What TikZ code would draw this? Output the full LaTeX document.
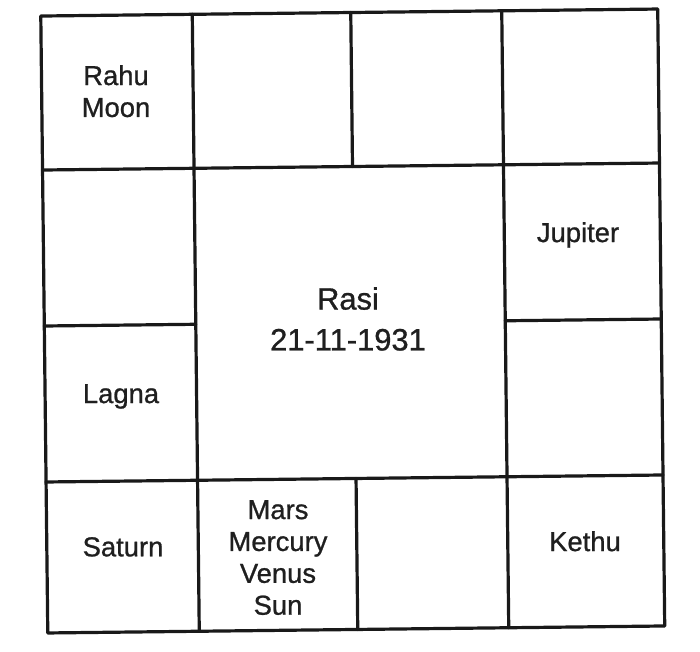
\documentclass[tikz,border=0pt]{standalone}
\usepackage{fontspec}
\setmainfont{Liberation Sans}
\newfontfamily\scanfont[FakeBold=0.9]{Liberation Sans}
\begin{document}
\begin{tikzpicture}[x=1bp,y=-1bp,
  gridline/.style={line width=3.2bp, line cap=round, line join=round, draw=black!90},
  planet/.style={anchor=north, inner sep=0pt, align=center, text=black!88,
    font=\scanfont\fontsize{27.5}{32}\selectfont},
  title/.style={anchor=north, inner sep=0pt, align=center, text=black!88,
    font=\scanfont\fontsize{31}{41}\selectfont}]
\useasboundingbox (0,0) rectangle (700,652);
\begin{scope}[rotate around={0.65:(352.75,321)}]
  % outer frame
  \draw[gridline] (44.25,12.5) rectangle (661.25,629.5);
  % full horizontals
  \draw[gridline] (44.25,166.5) -- (661.25,166.5);
  \draw[gridline] (44.25,478.5) -- (661.25,478.5);
  % full verticals
  \draw[gridline] (195.75,12.5) -- (195.75,629.5);
  \draw[gridline] (505.25,12.5) -- (505.25,629.5);
  % middle column divider in top and bottom rows
  \draw[gridline] (354.25,12.5) -- (354.25,166.5);
  \draw[gridline] (354.25,478.5) -- (354.25,629.5);
  % middle row divider in left and right columns
  \draw[gridline] (44.25,322.5) -- (195.75,322.5);
  \draw[gridline] (505.25,322.5) -- (661.25,322.5);
\end{scope}
\node[planet] (rahu)   at (116,65)  {Rahu\\Moon};
\node[planet] (jup)    at (578,222) {Jupiter};
\node[planet] (lagna)  at (121,384) {Lagna};
\node[planet] (saturn) at (123,537) {Saturn};
\node[planet] (mars)   at (278,500) {Mars\\Mercury\\Venus\\Sun};
\node[planet] (kethu)  at (585,531) {Kethu};
\node[title]  (rasi)   at (348,287) {Rasi\\21-11-1931};
\end{tikzpicture}
\end{document}
